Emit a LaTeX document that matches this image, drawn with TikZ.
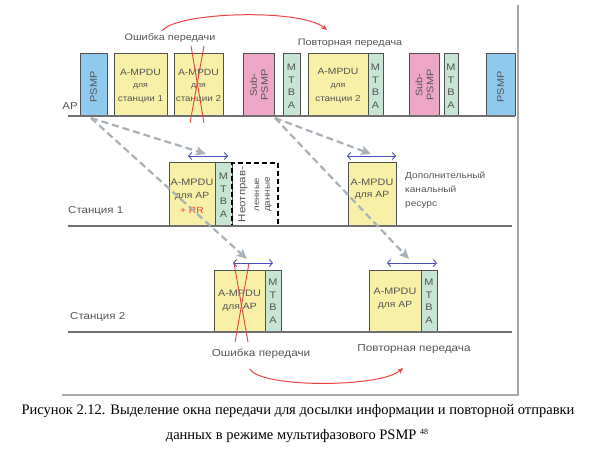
\documentclass[tikz,border=0pt]{standalone}
\usepackage{fontspec}
\setmainfont{Liberation Sans}[FakeStretch=1.15]
\newfontfamily\capfont{Liberation Serif}
\usetikzlibrary{arrows.meta}
\definecolor{psmpblue}{HTML}{8FC9EE}
\definecolor{ampduyel}{HTML}{F8F0A6}
\definecolor{subpink}{HTML}{EEA6C6}
\definecolor{mtbagreen}{HTML}{C6E5D3}
\definecolor{edgegray}{HTML}{505050}
\definecolor{txtgray}{HTML}{555555}
\definecolor{dashgray}{HTML}{A9B1B9}
\definecolor{dblue}{HTML}{4B4FB5}
\definecolor{errred}{HTML}{EA4343}
\definecolor{framegray}{HTML}{A8A8A8}
\definecolor{linegray}{HTML}{707070}
\tikzset{
  pbox/.style={draw=edgegray, line width=1pt, inner sep=0pt, outer sep=0pt, anchor=south west},
  ubox/.style={draw=black, line width=2pt, dash pattern=on 5pt off 3pt, inner sep=0pt, outer sep=0pt, anchor=south west},
  timeline/.style={linegray, line width=1.4pt},
  sig/.style={dashgray, line width=2.2pt, dash pattern=on 7pt off 4pt, -{Stealth[length=10pt,width=9pt,inset=2pt]}},
  win/.style={dblue, line width=0.9pt, {Straight Barb[length=3pt,width=7pt]}-{Straight Barb[length=3pt,width=7pt]}},
  cross/.style={errred, line width=0.9pt},
  lbl/.style={text=txtgray, inner sep=0pt, align=center},
  mtbatext/.style={text=txtgray, inner sep=0pt, align=center, font=\fontsize{9.5}{12.5}\selectfont},
  redarc/.style={errred, line width=1pt, -{Stealth[length=6pt,width=5pt]}},
  frameline/.style={framegray, line width=1.2pt},
}
\newcommand{\fs}[1]{\fontsize{#1}{#1}\selectfont}
\begin{document}
\begin{tikzpicture}[x=1pt,y=-1pt]
\useasboundingbox (0,0) rectangle (590,460);
% frame
\coordinate (ftr) at (518,5);
\coordinate (fbr) at (518,395);
\coordinate (fbl) at (62,395);
\draw[frameline] (ftr) -- (fbr) -- (fbl);
% timelines
\coordinate (apL) at (68,116); \coordinate (apR) at (515,116);
\coordinate (s1L) at (68,226); \coordinate (s1R) at (512,226);
\coordinate (s2L) at (68,332); \coordinate (s2R) at (512,332);
% AP row boxes
\node[pbox, fill=psmpblue, minimum width=27pt, minimum height=62pt] (psmp1) at (80,116) {};
\node[pbox, fill=ampduyel, minimum width=53pt, minimum height=62pt] (ampdu1) at (114,116) {};
\node[pbox, fill=ampduyel, minimum width=49pt, minimum height=62pt] (ampdu2) at (174,116) {};
\node[pbox, fill=subpink, minimum width=31pt, minimum height=62pt] (sub1) at (243,116) {};
\node[pbox, fill=mtbagreen, minimum width=17pt, minimum height=62pt] (mtba1) at (283,116) {};
\node[pbox, fill=ampduyel, minimum width=60pt, minimum height=62pt] (ampdu3) at (308,116) {};
\node[pbox, fill=mtbagreen, minimum width=15pt, minimum height=62pt] (mtba2) at (368,116) {};
\node[pbox, fill=subpink, minimum width=30pt, minimum height=62pt] (sub2) at (409,116) {};
\node[pbox, fill=mtbagreen, minimum width=14pt, minimum height=62pt] (mtba3) at (444,116) {};
\node[pbox, fill=psmpblue, minimum width=29pt, minimum height=62pt] (psmp2) at (486,116) {};
% Station 1 boxes
\node[pbox, fill=ampduyel, minimum width=46pt, minimum height=63pt] (s1a) at (169,226) {};
\node[pbox, fill=mtbagreen, minimum width=17pt, minimum height=63pt] (s1m) at (215,226) {};
\node[ubox, minimum width=46pt, minimum height=63pt] (s1u) at (232,226) {};
\node[pbox, fill=ampduyel, minimum width=48pt, minimum height=63pt] (s1b) at (348,226) {};
% Station 2 boxes
\node[pbox, fill=ampduyel, minimum width=51pt, minimum height=62pt] (s2a) at (214,332) {};
\node[pbox, fill=mtbagreen, minimum width=16pt, minimum height=62pt] (s2m) at (265,332) {};
\node[pbox, fill=ampduyel, minimum width=52pt, minimum height=62pt] (s2b) at (369,332) {};
\node[pbox, fill=mtbagreen, minimum width=16pt, minimum height=62pt] (s2m2) at (421,332) {};
% timelines drawn over box bottoms
\draw[timeline] (apL) -- (apR);
\draw[timeline] (s1L) -- (s1R);
\draw[timeline] (s2L) -- (s2R);
% AP row texts
\node[lbl, font=\fs{10}] (tap) at (70,106) {AP};
\node[lbl, rotate=90, font=\fs{9.5}] (tpsmp1) at (93.5,87) {PSMP};
\node[lbl, rotate=90, font=\fs{9.5}] (tpsmp2) at (500.5,87) {PSMP};
\node[lbl, font=\fs{9}] (ta1a) at (140.5,72) {A-MPDU};
\node[lbl, font=\fs{7.6}] (ta1b) at (140.5,86) {для};
\node[lbl, font=\fs{8.6}] (ta1c) at (140.5,99.5) {станции 1};
\node[lbl, font=\fs{9}] (ta2a) at (198.5,72) {A-MPDU};
\node[lbl, font=\fs{7.6}] (ta2b) at (198.5,86) {для};
\node[lbl, font=\fs{8.6}] (ta2c) at (198.5,99.5) {станции 2};
\node[lbl, font=\fs{9}] (ta3a) at (338,71) {A-MPDU};
\node[lbl, font=\fs{7.6}] (ta3b) at (338,86) {для};
\node[lbl, font=\fs{8.6}] (ta3c) at (338,99.5) {станции 2};
\node[lbl, rotate=90, font=\fs{9.5}] (tsub1a) at (253.5,85) {Sub-};
\node[lbl, rotate=90, font=\fs{9.5}] (tsub1b) at (264.5,85) {PSMP};
\node[lbl, rotate=90, font=\fs{9.5}] (tsub2a) at (419,85) {Sub-};
\node[lbl, rotate=90, font=\fs{9.5}] (tsub2b) at (430,85) {PSMP};
\node[mtbatext] (tm1) at (291.5,86) {M\\T\\B\\A};
\node[mtbatext] (tm2) at (375.5,86) {M\\T\\B\\A};
\node[mtbatext] (tm3) at (451,86) {M\\T\\B\\A};
% Station 1 texts
\node[lbl, font=\fs{10}, anchor=west] (ts1) at (68,211) {Станция 1};
\node[lbl, font=\fs{9.4}] (ts1a) at (192,182) {A-MPDU};
\node[lbl, font=\fs{9}] (ts1b) at (192,196) {для AP};
\node[lbl, font=\fs{9}, text=errred] (ts1c) at (192,210) {+ RR};
\node[mtbatext] (tm4) at (223.5,195) {M\\T\\B\\A};
\node[lbl, rotate=90, font=\fs{10}] (tu1) at (243,194.5) {Неотправ-};
\node[lbl, rotate=90, font=\fs{8.2}] (tu2) at (257,194.5) {ленные};
\node[lbl, rotate=90, font=\fs{8.6}] (tu3) at (268.5,194.5) {данные};
\node[lbl, font=\fs{9.4}] (ts1d) at (372,182) {A-MPDU};
\node[lbl, font=\fs{9}] (ts1e) at (372,195) {для AP};
\node[lbl, font=\fontsize{8.8}{14}\selectfont, anchor=north west, align=left] (tres) at (405,172) {Дополнительный\\канальный\\ресурс};
% Station 2 texts
\node[lbl, font=\fs{10}, anchor=west] (ts2) at (70,317) {Станция 2};
\node[lbl, font=\fs{9.4}] (ts2a) at (239.5,293) {A-MPDU};
\node[lbl, font=\fs{9}] (ts2b) at (239.5,307) {для AP};
\node[mtbatext] (tm5) at (273,301) {M\\T\\B\\A};
\node[lbl, font=\fs{9.4}] (ts2c) at (395,291) {A-MPDU};
\node[lbl, font=\fs{9}] (ts2d) at (395,305) {для AP};
\node[mtbatext] (tm6) at (429,301) {M\\T\\B\\A};
% error / retransmission labels
\node[lbl, font=\fs{9.4}] (err1) at (170,38) {Ошибка передачи};
\node[lbl, font=\fs{9.4}] (rep1) at (350,43) {Повторная передача};
\node[lbl, font=\fs{10.2}] (err2) at (261,354) {Ошибка передачи};
\node[lbl, font=\fs{10.2}] (rep2) at (414,349) {Повторная передача};
% red crosses
\coordinate (x1a) at (191,46); \coordinate (x1b) at (204,123);
\coordinate (x1c) at (204,46); \coordinate (x1d) at (190,123);
\draw[cross] (x1a) -- (x1b); \draw[cross] (x1c) -- (x1d);
\coordinate (x2a) at (234,263); \coordinate (x2b) at (248,342);
\coordinate (x2c) at (249,263); \coordinate (x2d) at (235,342);
\draw[cross] (x2a) -- (x2b); \draw[cross] (x2c) -- (x2d);
% red arcs
\coordinate (ra1s) at (162,31); \coordinate (ra1e) at (327,30);
\draw[redarc] (ra1s) .. controls (175,12) and (300,8) .. (ra1e);
\coordinate (ra2s) at (250,369); \coordinate (ra2e) at (403,368);
\draw[redarc] (ra2s) .. controls (260,388) and (380,388) .. (ra2e);
% transmission windows
\coordinate (w1l) at (188,156); \coordinate (w1r) at (228,156);
\coordinate (w2l) at (347,156); \coordinate (w2r) at (396,156);
\coordinate (w3l) at (233,263); \coordinate (w3r) at (273,263);
\coordinate (w4l) at (387,263); \coordinate (w4r) at (437,263);
\draw[win] (w1l) -- (w1r);
\draw[win] (w2l) -- (w2r);
\draw[win] (w3l) -- (w3r);
\draw[win] (w4l) -- (w4r);
% signalling arrows
\coordinate (src1) at (91,118);
\coordinate (src2) at (275,118);
\coordinate (t1) at (206,154);
\coordinate (t2) at (371,154);
\coordinate (t3) at (247,259);
\coordinate (t4) at (409,259);
\draw[sig] (src1) -- (t1);
\draw[sig] (src1) -- (t3);
\draw[sig] (src2) -- (t2);
\draw[sig] (src2) -- (t4);
% caption
\node[inner sep=0pt, font=\capfont\fontsize{14.5}{14.5}\selectfont] (cap1) at (298,411) {Рисунок 2.12. Выделение окна передачи для досылки информации и повторной отправки};
\node[inner sep=0pt, font=\capfont\fontsize{14.5}{14.5}\selectfont] (cap2) at (297,436) {данных в режиме мультифазового PSMP \raisebox{5pt}{\fontsize{8}{8}\selectfont 48}};
\end{tikzpicture}
\end{document}
